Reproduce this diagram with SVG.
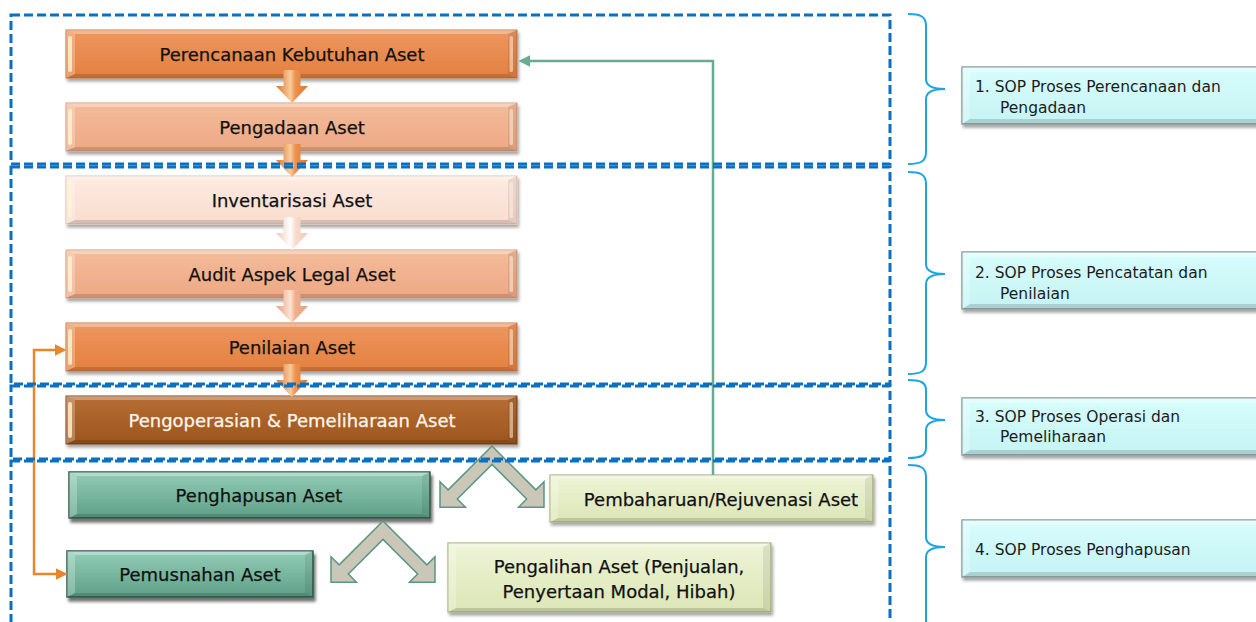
<svg xmlns="http://www.w3.org/2000/svg" width="1256" height="622" viewBox="0 0 1256 622">
  <defs>
    <!-- box fills -->
    <linearGradient id="gOrange" x1="0" y1="0" x2="0" y2="1"><stop offset="0" stop-color="#EE9660"/><stop offset="1" stop-color="#E3803F"/></linearGradient>
    <linearGradient id="gSalmon" x1="0" y1="0" x2="0" y2="1"><stop offset="0" stop-color="#F4BC9B"/><stop offset="1" stop-color="#EDA884"/></linearGradient>
    <linearGradient id="gPale" x1="0" y1="0" x2="0" y2="1"><stop offset="0" stop-color="#FDEBE2"/><stop offset="1" stop-color="#F9DCCE"/></linearGradient>
    <linearGradient id="gBrown" x1="0" y1="0" x2="0" y2="1"><stop offset="0" stop-color="#B76E36"/><stop offset="1" stop-color="#9C551B"/></linearGradient>
    <linearGradient id="gTeal" x1="0" y1="0" x2="0" y2="1"><stop offset="0" stop-color="#93CDB6"/><stop offset="1" stop-color="#5E9F87"/></linearGradient>
    <linearGradient id="gLime" x1="0" y1="0" x2="0" y2="1"><stop offset="0" stop-color="#EEF4D6"/><stop offset="1" stop-color="#DCE6B6"/></linearGradient>
    <linearGradient id="gCyan" x1="0" y1="0" x2="0" y2="1"><stop offset="0" stop-color="#D8FDFD"/><stop offset="1" stop-color="#C5F3F3"/></linearGradient>
    <!-- block-arrow fills -->
    <linearGradient id="aOrange" x1="0" y1="0" x2="1" y2="0"><stop offset="0" stop-color="#DC742C"/><stop offset="0.45" stop-color="#F9CB9C"/><stop offset="0.6" stop-color="#EC9450"/><stop offset="1" stop-color="#DC742C"/></linearGradient>
    <linearGradient id="aSalmon" x1="0" y1="0" x2="1" y2="0"><stop offset="0" stop-color="#E89E78"/><stop offset="0.45" stop-color="#FCE3D4"/><stop offset="0.6" stop-color="#F0B08E"/><stop offset="1" stop-color="#E89E78"/></linearGradient>
    <linearGradient id="aPale" x1="0" y1="0" x2="1" y2="0"><stop offset="0" stop-color="#F0C7B3"/><stop offset="0.45" stop-color="#FFFFFF"/><stop offset="0.6" stop-color="#F8DDD0"/><stop offset="1" stop-color="#F0C7B3"/></linearGradient>

    <filter id="shadow" x="-5%" y="-20%" width="110%" height="160%">
      <feDropShadow dx="1.5" dy="3" stdDeviation="1.6" flood-color="#000" flood-opacity="0.35"/>
    </filter>
    <filter id="shadowDark" x="-5%" y="-20%" width="110%" height="160%">
      <feDropShadow dx="2" dy="4" stdDeviation="1.8" flood-color="#000" flood-opacity="0.55"/>
    </filter>

    <marker id="mGreen" viewBox="0 0 10 10" refX="8" refY="5" markerWidth="4.6" markerHeight="5" orient="auto-start-reverse">
      <path d="M0,0 L10,5 L0,10 Z" fill="#6AAA91"/>
    </marker>
    <marker id="mOrange" viewBox="0 0 10 10" refX="8" refY="5" markerWidth="4.6" markerHeight="5" orient="auto-start-reverse">
      <path d="M0,0 L10,5 L0,10 Z" fill="#E8862E"/>
    </marker>

    <!-- bevel overlays -->
    <g id="bevelWide">
      <polygon class="bt" points="0,0 451,0 442,4 9,4"/>
      <polygon class="bb" points="0,48 451,48 442,44 9,44"/>
      <polygon class="bl" points="0,0 9,4 9,44 0,48"/>
      <polygon class="br" points="451,0 442,4 442,44 451,48"/>
      <rect class="hl" x="2" y="6" width="4" height="36" rx="2"/>
      <rect class="hr" x="443.5" y="6" width="3.5" height="36" rx="1.5"/>
    </g>
    <g id="bevelSop">
      <polygon class="bt" points="0,0 310,0 302,5 8,5"/>
      <polygon class="bb" points="0,57 310,57 302,52 8,52"/>
      <polygon class="bl" points="0,0 8,5 8,52 0,57"/>
    </g>

    <path id="chev" d="M0,0 L43.87,43.87 L52,35.73 L52,61.19 L26.54,61.19 L34.67,53.05 L0,18.38 L-34.67,53.05 L-26.54,61.19 L-52,61.19 L-52,35.73 L-43.87,43.87 Z"/>
    <path id="dnArrow" d="M-8.5,0 H8.5 V16 H16 L0,33 L-16,16 H-8.5 Z"/>
  </defs>

  <style>
    .lbl{font-family:"DejaVu Sans",Verdana,sans-serif;font-size:18px;fill:#111;text-anchor:middle;stroke:#111;stroke-width:.25}
    .lbl.w{fill:#FFF7EE;stroke:#FFF7EE}
    .sop{font-family:"DejaVu Sans",Verdana,sans-serif;font-size:15.5px;fill:#1C1C1C}
    .frame{fill:none;stroke:#0A70C2;stroke-width:3;stroke-dasharray:9 4}
    .brace{fill:none;stroke:#1CA5E2;stroke-width:2}
    .bt{fill:#fff;opacity:.32}
    .bb{fill:#000;opacity:.14}
    .bl{fill:#fff;opacity:.25}
    .br{fill:#000;opacity:.08}
    .hl{fill:#FFF4D2;opacity:.8}
    .hr{fill:#FFF0DC;opacity:.55}
    .chev{fill:#CAC7B8;stroke:#5A977F;stroke-width:1.5}
    .link{fill:none;stroke-width:2.5}
    .b-or{fill:url(#gOrange);stroke:#C87444;stroke-width:1;filter:url(#shadow)}
    .b-sa{fill:url(#gSalmon);stroke:#D39A7B;stroke-width:1;filter:url(#shadow)}
    .b-pa{fill:url(#gPale);stroke:#E3C3B3;stroke-width:1;filter:url(#shadow)}
    .b-br{fill:url(#gBrown);stroke:#7A4114;stroke-width:1;filter:url(#shadow)}
    .b-te{fill:url(#gTeal);stroke:#2B5B4B;stroke-width:1.5;filter:url(#shadowDark)}
    .b-li{fill:url(#gLime);stroke:#A7B27E;stroke-width:1.2;filter:url(#shadow)}
    .b-cy{fill:url(#gCyan);stroke:#8C9C9C;stroke-width:1.5;filter:url(#shadow)}
  </style>

  <!-- process steps -->
  <g id="n-perencanaan" transform="translate(66,30)">
    <rect class="b-or" width="451" height="48"/>
    <use href="#bevelWide"/>
    <text class="lbl" x="226" y="31">Perencanaan Kebutuhan Aset</text>
  </g>
  <g id="n-pengadaan" transform="translate(66,103)">
    <rect class="b-sa" width="451" height="48"/>
    <use href="#bevelWide"/>
    <text class="lbl" x="226" y="31">Pengadaan Aset</text>
  </g>
  <g id="n-inventarisasi" transform="translate(66,176)">
    <rect class="b-pa" width="451" height="48"/>
    <use href="#bevelWide"/>
    <text class="lbl" x="226" y="31">Inventarisasi Aset</text>
  </g>
  <g id="n-audit" transform="translate(66,250)">
    <rect class="b-sa" width="451" height="48"/>
    <use href="#bevelWide"/>
    <text class="lbl" x="226" y="31">Audit Aspek Legal Aset</text>
  </g>
  <g id="n-penilaian" transform="translate(66,323)">
    <rect class="b-or" width="451" height="48"/>
    <use href="#bevelWide"/>
    <text class="lbl" x="226" y="31">Penilaian Aset</text>
  </g>
  <g id="n-pengoperasian" transform="translate(66,396)">
    <rect class="b-br" width="451" height="48"/>
    <use href="#bevelWide"/>
    <text class="lbl w" x="226" y="31">Pengoperasian &amp; Pemeliharaan Aset</text>
  </g>

  <g id="n-penghapusan" transform="translate(69,472)">
    <rect class="b-te" width="361" height="46"/>
    <polygon class="bt" points="0,0 361,0 353,4 8,4"/>
    <polygon class="bb" points="0,46 361,46 353,42 8,42"/>
    <polygon class="bl" points="0,0 8,4 8,42 0,46"/>
    <polygon class="br" points="361,0 353,4 353,42 361,46"/>
    <text class="lbl" x="190" y="30">Penghapusan Aset</text>
  </g>
  <g id="n-pemusnahan" transform="translate(67,551)">
    <rect class="b-te" width="246" height="46"/>
    <polygon class="bt" points="0,0 246,0 238,4 8,4"/>
    <polygon class="bb" points="0,46 246,46 238,42 8,42"/>
    <polygon class="bl" points="0,0 8,4 8,42 0,46"/>
    <polygon class="br" points="246,0 238,4 238,42 246,46"/>
    <text class="lbl" x="133" y="30">Pemusnahan Aset</text>
  </g>
  <g id="n-pembaharuan" transform="translate(550,475)">
    <rect class="b-li" width="323" height="47"/>
    <polygon class="bt" points="0,0 323,0 315,4 8,4"/>
    <polygon class="bb" points="0,47 323,47 315,43 8,43"/>
    <polygon class="bl" points="0,0 8,4 8,43 0,47"/>
    <polygon class="br" points="323,0 315,4 315,43 323,47"/>
    <text class="lbl" x="171" y="30.5">Pembaharuan/Rejuvenasi Aset</text>
  </g>
  <g id="n-pengalihan" transform="translate(448,543)">
    <rect class="b-li" width="323" height="69"/>
    <polygon class="bt" points="0,0 323,0 315,4 8,4"/>
    <polygon class="bb" points="0,69 323,69 315,65 8,65"/>
    <polygon class="bl" points="0,0 8,4 8,65 0,69"/>
    <polygon class="br" points="323,0 315,4 315,65 323,69"/>
    <text class="lbl" x="171" y="30">Pengalihan Aset (Penjualan,</text>
    <text class="lbl" x="171" y="55">Penyertaan Modal, Hibah)</text>
  </g>

  <!-- SOP labels -->
  <g id="n-sop1" transform="translate(962,67)">
    <rect class="b-cy" width="310" height="57"/>
    <use href="#bevelSop"/>
    <text class="sop" x="13" y="25">1. SOP Proses Perencanaan dan</text>
    <text class="sop" x="38" y="46">Pengadaan</text>
  </g>
  <g id="n-sop2" transform="translate(962,252)">
    <rect class="b-cy" width="310" height="57"/>
    <use href="#bevelSop"/>
    <text class="sop" x="13" y="26">2. SOP Proses Pencatatan dan</text>
    <text class="sop" x="38" y="47">Penilaian</text>
  </g>
  <g id="n-sop3" transform="translate(962,398)">
    <rect class="b-cy" width="310" height="57"/>
    <use href="#bevelSop"/>
    <text class="sop" x="13" y="24">3. SOP Proses Operasi dan</text>
    <text class="sop" x="38" y="44">Pemeliharaan</text>
  </g>
  <g id="n-sop4" transform="translate(962,520)">
    <rect class="b-cy" width="310" height="57"/>
    <use href="#bevelSop"/>
    <text class="sop" x="13" y="34.5">4. SOP Proses Penghapusan</text>
  </g>

  <!-- connectors -->
  <g id="connectors">
    <use href="#dnArrow" x="292" y="70" fill="url(#aOrange)"/>
    <use href="#dnArrow" x="292" y="144" fill="url(#aOrange)"/>
    <use href="#dnArrow" x="292" y="217" fill="url(#aPale)"/>
    <use href="#dnArrow" x="292" y="290" fill="url(#aSalmon)"/>
    <use href="#dnArrow" x="292" y="364" fill="url(#aOrange)"/>

    <use href="#chev" class="chev" x="492" y="446"/>
    <use href="#chev" class="chev" x="383" y="521"/>

    <polyline class="link" stroke="#6AAA91" points="713,475 713,61 521,61" marker-end="url(#mGreen)"/>
    <path class="link" stroke="#E8862E" d="M64,350 H34 V574 H65" marker-start="url(#mOrange)" marker-end="url(#mOrange)"/>
  </g>

  <!-- phase frames -->
  <g id="frames">
    <rect class="frame" x="11" y="15" width="879" height="149"/>
    <rect class="frame" x="11" y="167" width="879" height="217"/>
    <rect class="frame" x="11" y="386" width="879" height="73"/>
    <rect class="frame" x="11" y="461" width="879" height="190"/>
  </g>

  <!-- phase braces -->
  <g id="braces">
    <path class="brace" d="M908,14 C920,14 926,16 926,26 V79 C926,86 932,89 945,89 C932,89 926,92 926,99 V152 C926,162 920,164 908,164"/>
    <path class="brace" d="M908,172 C920,172 926,174 926,184 V264 C926,271 932,274 945,274 C932,274 926,277 926,284 V362 C926,372 920,374 908,374"/>
    <path class="brace" d="M908,380 C920,380 926,382 926,390 V410 C926,417 932,420 945,420 C932,420 926,423 926,430 V448 C926,456 920,458 908,458"/>
    <path class="brace" d="M908,465 C920,465 926,467 926,477 V537 C926,544 932,547 945,547 C932,547 926,550 926,557 V650"/>
  </g>
</svg>
